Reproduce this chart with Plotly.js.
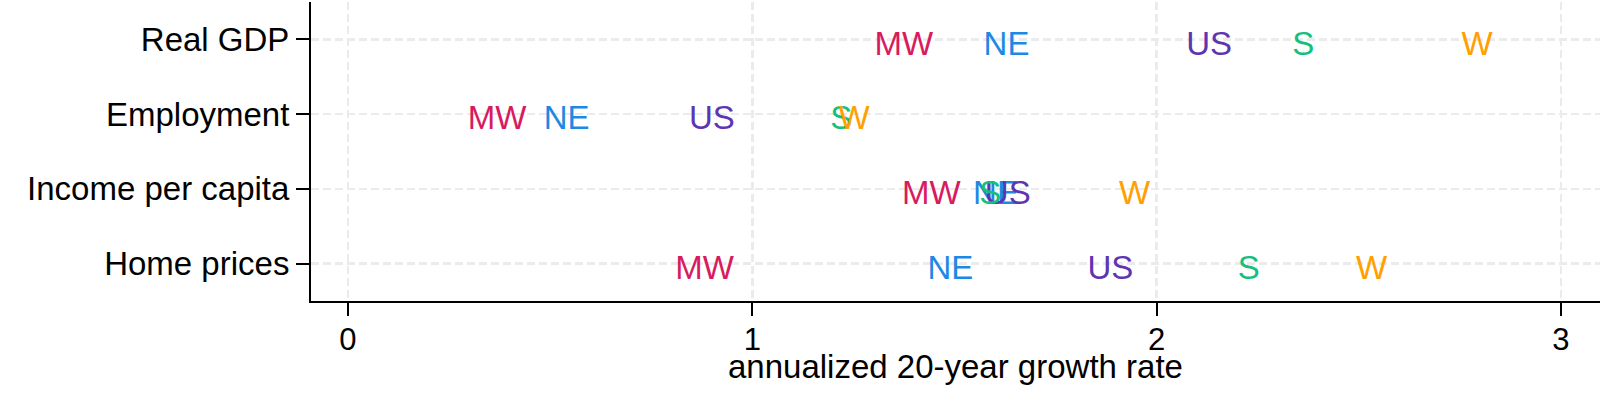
<!DOCTYPE html>
<html>
<head>
<meta charset="utf-8">
<script src="https://cdn.plot.ly/plotly-3.0.1.min.js"></script>
<style>
html,body{margin:0;padding:0;background:#fff;}
#chart{width:1600px;height:394px;}
</style>
</head>
<body>
<div id="chart"></div>
<script>
// Measures (y categories, top to bottom)
const measures = ["Real GDP", "Employment", "Income per capita", "Home prices"];
// Region labels and annualized 20-year growth rates (same order as measures)
const regions = ["MW", "NE", "US", "S", "W"];
const mwValues = [1.375, 0.369, 1.443, 0.882];
const neValues = [1.629, 0.541, 1.603, 1.490];
const usValues = [2.130, 0.900, 1.632, 1.886];
const sValues  = [2.363, 1.220, 1.589, 2.228];
const wValues  = [2.793, 1.252, 1.946, 2.532];
const regionColors = ["#D81B60", "#1E88E5", "#5E35B1", "#13C07E", "#FFA000"];
const xTickVals = [0, 1, 2, 3];
const xTickText = ["0", "1", "2", "3"];
const xTitle = "annualized 20-year growth rate";

const FONT = "Liberation Sans, Arial, Helvetica, sans-serif";
const seriesValues = [mwValues, neValues, usValues, sValues, wValues];

// empty trace so the visible x/y axis pair (with grid and labels) is drawn
const axisTrace = {type: "scatter", mode: "markers", x: [], y: [], hoverinfo: "skip", showlegend: false};

const traces = [axisTrace].concat(regions.map((r, i) => ({
  type: "scatter",
  mode: "text",
  x: seriesValues[i],
  y: measures,
  yaxis: "y2",
  text: measures.map(() => r),
  textposition: "middle center",
  textfont: {family: FONT, size: 33, color: regionColors[i]},
  hoverinfo: "skip",
  showlegend: false,
  cliponaxis: false
})));

const gridStyle = {
  showgrid: true,
  gridcolor: "#ebebeb",
  gridwidth: 2.5,
  griddash: "8px,4px"
};

const layout = {
  width: 1600,
  height: 394,
  margin: {l: 311, r: 0, t: 2, b: 93, pad: 0},
  paper_bgcolor: "#ffffff",
  plot_bgcolor: "#ffffff",
  font: {family: FONT, size: 33, color: "#000"},
  showlegend: false,
  xaxis: Object.assign({
    range: [-0.0915, 3.097],
    tickvals: xTickVals,
    ticktext: xTickText,
    ticks: "outside",
    ticklen: 13,
    tickwidth: 2,
    tickcolor: "#000",
    showline: true,
    linecolor: "#000",
    linewidth: 2,
    zeroline: false,
    ticklabelstandoff: -3,
    tickfont: {family: FONT, size: 31, color: "#000"}
  }, gridStyle),
  yaxis: Object.assign({
    type: "linear",
    range: [3.5, -0.5],
    tickvals: measures.map((m, i) => i),
    ticktext: measures,
    ticks: "outside",
    ticklen: 13,
    tickwidth: 2,
    tickcolor: "#000",
    showline: true,
    linecolor: "#000",
    linewidth: 2,
    zeroline: false,
    tickfont: {family: FONT, size: 33, color: "#000"}
  }, gridStyle),
  yaxis2: {
    type: "category",
    categoryorder: "array",
    categoryarray: measures,
    overlaying: "y",
    range: [3.406, -0.594],
    visible: false,
    showgrid: false
  },
  annotations: [{
    text: xTitle,
    xref: "paper", yref: "paper",
    x: 0.5, y: 0,
    xanchor: "center", yanchor: "middle",
    yshift: -65,
    showarrow: false,
    font: {family: FONT, size: 33, color: "#000"}
  }]
};

Plotly.newPlot("chart", traces, layout, {displayModeBar: false, staticPlot: true});
</script>
</body>
</html>
